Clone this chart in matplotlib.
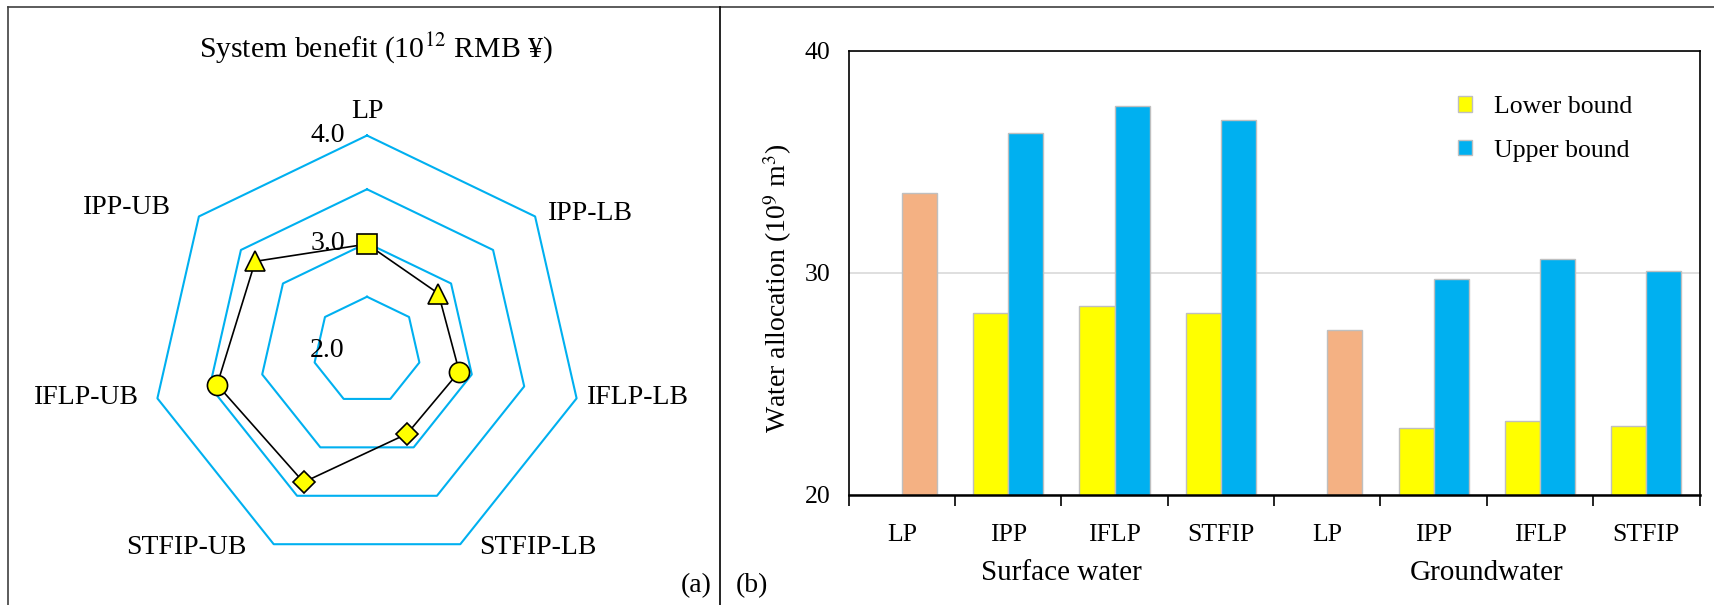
import numpy as np
import matplotlib
matplotlib.use("Agg")
import matplotlib.pyplot as plt
from matplotlib.lines import Line2D
from matplotlib.patches import Patch

plt.rcParams['font.family'] = ['Liberation Serif', 'DejaVu Serif']
plt.rcParams['mathtext.fontset'] = 'stix'

# (a) system benefit radar
radar_labels = ["LP", "IPP-LB", "IFLP-LB", "STFIP-LB", "STFIP-UB", "IFLP-UB", "IPP-UB"]
radar_values = [2.99, 2.85, 2.88, 2.86, 3.36, 3.43, 3.33]
radar_markers = ["s", "^", "o", "D", "D", "o", "^"]
ring_levels = [2.5, 3.0, 3.5, 4.0]
ring_labels = {2.0: "2.0", 3.0: "3.0", 4.0: "4.0"}

# (b) water allocation
categories = ["LP", "IPP", "IFLP", "STFIP", "LP", "IPP", "IFLP", "STFIP"]
groups = ["Surface water", "Groundwater"]
lower = [np.nan, 28.2, 28.5, 28.2, np.nan, 23.0, 23.3, 23.1]
upper = [np.nan, 36.3, 37.5, 36.9, np.nan, 29.7, 30.6, 30.1]
lp_val = [33.6, np.nan, np.nan, np.nan, 27.4, np.nan, np.nan, np.nan]

W, H = 1714, 605
fig = plt.figure(figsize=(W / 100, H / 100), dpi=100)

def fx(px):
    return px / W

def fy(py):
    return 1 - py / H

# panel frame lines
lc = '#404040'
fig.add_artist(Line2D([fx(8), 1], [fy(6.5), fy(6.5)], color=lc, lw=1.2))
fig.add_artist(Line2D([fx(8), fx(8)], [fy(6.5), 0], color=lc, lw=1.2))
fig.add_artist(Line2D([fx(719.7), fx(719.7)], [fy(6.5), 0], color='k', lw=1.2))

# ---- radar ----
cx, cy, R = 367, 350.5, 215
ax1 = fig.add_axes([fx(cx - R), fy(cy + R), 2 * R / W, 2 * R / H], polar=True)
ax1.set_theta_zero_location('N')
ax1.set_theta_direction(-1)
ax1.set_ylim(2.0, 4.0)
ax1.grid(False)
ax1.set_xticks([])
ax1.set_yticks([])
ax1.spines['polar'].set_visible(False)
ax1.patch.set_visible(False)

n = len(radar_labels)
theta = np.arange(n) * 2 * np.pi / n
theta_c = np.append(theta, theta[0])
for lv in ring_levels:
    ax1.plot(theta_c, [lv] * (n + 1), color='#00B0F0', lw=1.5, clip_on=False)

vals_c = np.append(radar_values, radar_values[0])
ax1.plot(theta_c, vals_c, color='k', lw=1.2, zorder=3, clip_on=False)
for t, v, m in zip(theta, radar_values, radar_markers):
    ms = 11.5 if m == "D" else 14.5
    ax1.plot(t, v, marker=m, ms=ms, mfc='#FFFF00', mec='k', mew=1.2,
             zorder=4, clip_on=False)

for lv, txt in ring_labels.items():
    ax1.annotate(txt, xy=(0, lv), xytext=(-16, 0), textcoords='offset points',
                 ha='right', va='center', fontsize=20, zorder=2)

label_pos = [(367, 112), (590, 214), (638, 397), (538, 548),
             (186, 548), (86, 397), (127, 207)]
for lab, (px, py) in zip(radar_labels, label_pos):
    fig.text(fx(px), fy(py), lab, ha='center', va='center', fontsize=20)

fig.text(fx(376), fy(48), "System benefit (10$^{12}$ RMB ¥)", ha='center',
         va='center', fontsize=21.4)
fig.text(fx(696), fy(586), "(a)", ha='center', va='center', fontsize=20)
fig.text(fx(752), fy(586), "(b)", ha='center', va='center', fontsize=20)

# ---- bars ----
ax2 = fig.add_axes([fx(848.7), fy(494.6), (1699.5 - 848.7) / W, (494.6 - 51) / H])
x = np.arange(len(categories))
bw = 0.33
edge = '#BFBFBF'
ax2.bar(x - bw / 2, lower, bw, color='#FFFF00', edgecolor=edge, lw=1, label='Lower bound', zorder=2)
ax2.bar(x + bw / 2, upper, bw, color='#00B0F0', edgecolor=edge, lw=1, label='Upper bound', zorder=2)
ax2.bar(x + bw / 2, lp_val, bw, color='#F4B183', edgecolor=edge, lw=1, zorder=2)

ax2.set_xlim(-0.5, len(categories) - 0.5)
ax2.set_ylim(20, 40)
ax2.set_yticks([20, 30, 40])
ax2.tick_params(axis='y', length=0, pad=13, labelsize=18.5)
ax2.yaxis.grid(True, color='#D9D9D9', lw=1.2, zorder=0)
ax2.set_axisbelow(True)
ax2.set_xticks(x)
ax2.set_xticklabels(categories, fontsize=18.5)
ax2.set_xticks(np.arange(-0.5, len(categories)), minor=True)
ax2.tick_params(axis='x', which='major', length=0, pad=21)
ax2.tick_params(axis='x', which='minor', length=8, width=1.2, direction='out')
for s in ['left', 'top', 'right']:
    ax2.spines[s].set_linewidth(1.2)
ax2.spines['bottom'].set_linewidth(1.8)

ax2.set_ylabel("Water allocation (10$^{9}$ m$^{3}$)", fontsize=20, labelpad=8, y=0.466)

for i, g in enumerate(groups):
    ax2.text(1.5 + 4 * i, -0.177, g, transform=ax2.get_xaxis_transform(),
             ha='center', va='center', fontsize=21)

handles = [Patch(facecolor='#FFFF00', edgecolor=edge),
           Patch(facecolor='#00B0F0', edgecolor=edge)]
ax2.legend(handles, ['Lower bound', 'Upper bound'], loc='upper left',
           bbox_to_anchor=(fx(1458), fy(96)), bbox_transform=fig.transFigure,
           frameon=False, fontsize=18.5, handlelength=0.55, handleheight=0.55,
           handletextpad=0.85, labelspacing=0.85, borderpad=0, borderaxespad=0)

fig.savefig("out.png", dpi=100)
